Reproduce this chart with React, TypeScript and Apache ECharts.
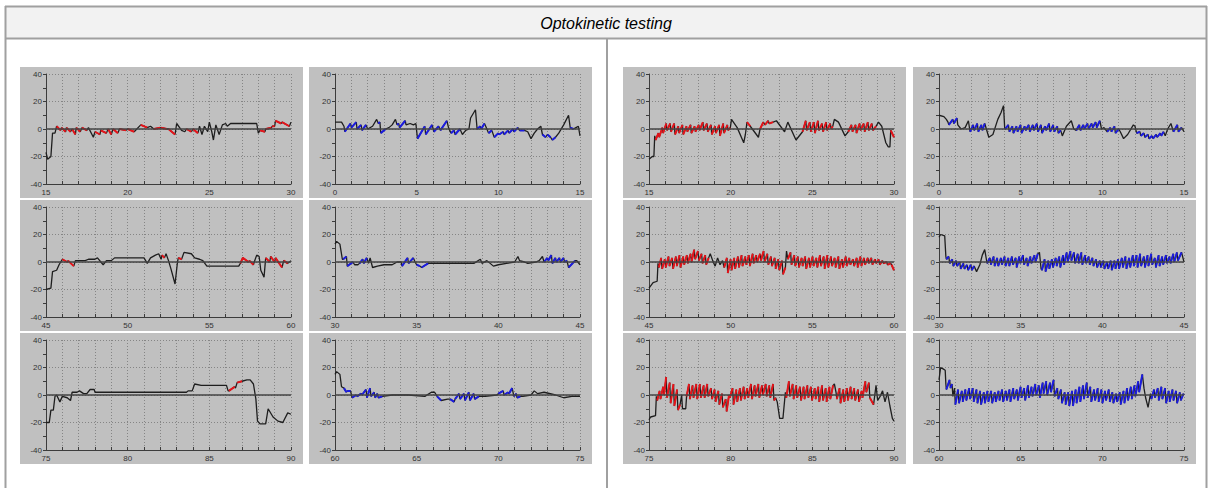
import React, { useEffect, useRef } from "react";
import * as echarts from "echarts";

type Pt = [number, number, number]; // [time s, position deg, 1 = slow phase (coloured) segment to next point]

const TITLE = "Optokinetic testing";
const Y_MIN = -40;
const Y_MAX = 40;
const Y_STEP = 20;
const X_SPAN = 15;
const X_STEP = 5;
const RED = "#e6141a";
const BLUE = "#1c1ce0";

// ---------- left block ----------
const L1: Pt[] = [[15.0,-17,0],[15.1,-22,0],[15.3,-20,0],[15.4,-3,0],[15.55,-3,0],[15.65,2,1],[15.9,-1,0],[15.95,1,1],[16.2,-2,0],[16.25,1,1],[16.5,-2,0],[16.6,0,1],[16.8,-4,0],[16.85,1,1],[17.1,-2,0],[17.2,1,1],[17.5,-1,0],[17.6,1,0],[17.9,-6,0],[18.0,-2,1],[18.3,-4,0],[18.35,-1,1],[18.7,-3,0],[18.8,0,1],[19.0,-4,0],[19.1,0,1],[19.4,-3,0],[19.5,0,1],[19.9,-1,0],[20.0,0,1],[20.4,-2,0],[20.8,3,1],[21.2,1,0],[21.4,2,0],[21.6,0,1],[22.0,1,0],[22.05,1,1],[22.4,0,0],[22.5,0,1],[22.9,-4,0],[23.0,4,0],[23.3,-1,0],[23.5,-2,0],[23.6,0,1],[23.9,-2,0],[24.0,0,1],[24.3,-3,0],[24.4,2,0],[24.55,-4,0],[24.7,2,0],[24.9,-2,0],[25.0,5,0],[25.15,-2,0],[25.25,-8,0],[25.4,3,0],[25.6,-4,0],[25.8,3,0],[26.0,4,0],[26.1,2,0],[26.3,4,0],[27.9,4,0],[28.0,-3,0],[28.1,-1,1],[28.4,-2,0],[28.45,0,1],[28.8,1,0],[28.85,2,1],[29.0,2,0],[29.05,6,1],[29.4,4,0],[29.45,5,1],[29.9,2,0],[30.0,5,0]];

const L2: Pt[] = [[0,5,0],[0.4,5,0],[0.55,2,0],[0.6,-2,1],[0.95,4,0],[1.0,1,1],[1.3,5,0],[1.35,0,1],[1.6,3,0],[1.65,-1,1],[1.9,3,0],[2.0,0,0],[2.3,2,0],[2.55,7,0],[2.65,4,1],[2.75,5,0],[2.8,-3,1],[3.1,0,0],[3.3,1,0],[3.5,3,0],[3.7,7,0],[3.8,3,1],[3.9,4,0],[3.95,1,1],[4.3,6,0],[4.35,3,0],[4.6,4,0],[4.8,3,0],[4.95,4,0],[5.05,-7,1],[5.5,2,0],[5.55,-4,1],[5.95,3,0],[6.05,-2,1],[6.35,2,0],[6.45,-1,1],[6.85,6,0],[6.95,1,0],[7.1,-3,1],[7.3,-1,0],[7.35,-4,1],[7.65,0,0],[7.8,-4,0],[8.0,-1,0],[8.2,0,0],[8.3,8,0],[8.6,14,0],[8.7,0,1],[8.9,2,0],[8.95,0,1],[9.15,4,0],[9.3,0,0],[9.4,-3,1],[9.6,-1,0],[9.75,-6,1],[10.0,-3,0],[10.05,-4,1],[10.3,-2,0],[10.35,-4,1],[10.6,-1,0],[10.65,-3,1],[10.9,0,0],[10.95,-2,1],[11.2,1,0],[11.3,-1,1],[11.6,-1,0],[11.8,-2,0],[12.0,-7,0],[12.2,-3,0],[12.4,0,0],[12.6,2,0],[12.7,-4,1],[12.9,-6,0],[13.0,-4,1],[13.2,-6,0],[13.3,-8,1],[13.5,-6,0],[13.7,-3,0],[14.0,3,0],[14.3,10,0],[14.4,1,1],[14.6,0,0],[14.75,1,0],[14.9,2,0],[15.0,-5,0]];

const L3: Pt[] = [[45,-20,0],[45.3,-19,0],[45.4,-7,0],[45.65,-6,0],[45.8,-2,0],[45.9,0,0],[46.0,2,1],[46.3,0,0],[46.35,1,1],[46.7,-3,0],[46.8,1,0],[47.4,1,0],[47.6,2,0],[48.0,2,0],[48.15,3,0],[48.5,-2,0],[48.7,1,0],[49.0,1,0],[49.2,3,0],[51.0,3,0],[51.2,-1,0],[51.4,3,0],[51.7,5,0],[51.9,6,0],[52.05,2,0],[52.1,5,1],[52.25,3,0],[52.35,6,0],[52.5,1,0],[52.65,-5,0],[52.9,-16,0],[53.05,0,0],[53.1,3,1],[53.3,2,0],[53.45,7,0],[53.9,6,0],[54.1,3,0],[54.4,2,0],[54.6,1,0],[54.85,-3,0],[56.8,-3,0],[56.9,-1,1],[57.05,3,1],[57.4,0,0],[57.45,1,1],[57.7,-2,0],[57.75,0,0],[57.9,5,0],[58.05,4,0],[58.15,-6,0],[58.35,-11,0],[58.45,3,1],[58.7,0,0],[58.75,4,1],[59.0,0,0],[59.05,3,1],[59.45,-4,0],[59.55,1,1],[59.8,-1,0],[60,1,0]];

const L4: Pt[] = [[30,13,0],[30.1,15,0],[30.3,13,0],[30.45,2,0],[30.5,2,1],[30.7,4,0],[30.75,-3,1],[31.1,0,0],[31.2,-2,0],[31.4,-2,0],[31.5,-1,1],[31.7,2,0],[31.75,-1,1],[31.95,3,0],[32.05,-1,0],[32.15,3,0],[32.3,-4,0],[32.6,-3,0],[33.0,-2,0],[33.5,-2,0],[33.8,0,0],[34.05,0,0],[34.1,-3,1],[34.45,3,0],[34.5,-1,1],[34.8,3,0],[34.9,0,0],[35.0,-2,1],[35.2,-3,0],[35.3,-4,1],[35.7,-1,0],[36.5,-1,0],[37.5,-1,0],[38.5,-1,0],[38.9,2,0],[39.0,-1,0],[39.3,1,0],[39.7,-3,0],[40.0,-2,0],[40.5,-1,0],[41.0,0,0],[41.2,4,0],[41.3,1,0],[41.6,0,0],[41.8,-1,0],[42.3,0,0],[42.5,1,0],[42.7,4,0],[42.8,0,1],[43.0,3,0],[43.05,1,1],[43.25,5,0],[43.3,-1,1],[43.5,3,0],[43.55,0,1],[43.75,3,0],[43.8,0,1],[44.0,3,0],[44.05,0,1],[44.2,1,0],[44.3,-4,1],[44.7,1,0],[44.8,1,0],[45,-2,0]];

const L5: Pt[] = [[75,-20,0],[75.2,-20,0],[75.3,-11,0],[75.45,-11,0],[75.55,-1,0],[75.65,0,0],[75.85,-5,0],[76.0,-1,0],[76.3,-2,0],[76.5,-4,0],[76.6,2,0],[76.9,2,0],[77.05,3,0],[77.3,1,0],[77.5,1,0],[77.7,4,0],[77.95,4,0],[78.0,2,0],[83.6,2,0],[83.7,3,0],[83.95,3,0],[84.1,8,0],[84.5,7,0],[85.0,7,0],[86.05,7,0],[86.15,3,0],[86.2,3,1],[86.55,6,0],[86.6,5,0],[86.7,9,1],[87.0,10,0],[87.3,11,0],[87.5,11,0],[87.7,8,0],[87.85,-3,0],[87.95,-19,0],[88.1,-21,0],[88.45,-21,0],[88.6,-10,0],[88.9,-16,0],[89.2,-19,0],[89.5,-20,0],[89.8,-13,0],[90,-14,0]];

const L6: Pt[] = [[60,15,0],[60.1,17,0],[60.3,15,0],[60.4,6,0],[60.55,5,1],[60.7,2,0],[60.75,3,1],[60.95,3,0],[61.05,-2,1],[61.3,0,0],[61.35,-1,1],[61.6,1,0],[61.65,0,1],[61.9,4,0],[61.95,-2,1],[62.15,5,0],[62.2,-1,1],[62.4,2,0],[62.45,-2,1],[62.6,1,0],[62.65,-2,1],[62.9,-1,0],[63.5,0,0],[64.5,0,0],[65.5,-1,0],[65.9,2,0],[66.1,2,0],[66.25,-1,1],[66.5,-4,0],[66.9,-3,0],[67.05,-3,1],[67.3,-5,0],[67.35,-3,1],[67.6,1,0],[67.65,-3,1],[67.9,1,0],[67.95,-4,1],[68.2,2,0],[68.25,-4,1],[68.5,1,0],[68.55,-3,1],[68.8,-1,0],[69.2,-1,0],[69.9,0,0],[70.0,1,1],[70.3,3,0],[70.35,0,1],[70.6,2,0],[70.65,1,1],[70.85,5,0],[70.95,-1,1],[71.1,1,0],[71.15,-2,1],[71.35,-1,0],[71.5,-1,0],[72.0,0,0],[72.2,3,0],[72.4,1,0],[72.8,2,0],[73.5,0,0],[74.0,-2,0],[74.5,-1,0],[75,-1,0]];

// ---------- right block ----------
const R1: Pt[] = [[15.0,-22,0],[15.2,-20,0],[15.3,-20,0],[15.35,-5,0],[15.4,-8,1],[15.58,-3,0],[15.62,-6,1],[15.82,1,0],[15.86,-3,1],[16.06,4,0],[16.1,-1,1],[16.3,4,0],[16.34,-2,1],[16.55,4,0],[16.59,-4,1],[16.8,2,0],[16.84,-3,1],[17.05,3,0],[17.09,-4,1],[17.3,2,0],[17.34,-2,1],[17.55,3,0],[17.59,-3,1],[17.8,2,0],[17.84,-2,1],[18.05,3,0],[18.09,-1,1],[18.3,5,0],[18.34,-1,1],[18.55,4,0],[18.59,-2,1],[18.8,3,0],[18.84,-4,1],[19.05,2,0],[19.09,-3,1],[19.3,3,0],[19.34,-5,1],[19.55,4,0],[19.59,-3,1],[19.8,3,0],[19.84,-1,1],[19.98,1,0],[20.05,7,0],[20.4,1,0],[20.8,-10,0],[20.9,-4,0],[21.0,5,1],[21.2,2,0],[21.7,-6,0],[21.8,0,1],[22.0,5,0],[22.1,3,1],[22.3,6,0],[22.35,4,1],[22.6,5,0],[22.8,6,0],[23.3,-2,0],[23.5,5,0],[24.0,-8,0],[24.4,-2,1],[24.6,6,0],[24.65,-1,1],[24.85,5,0],[24.9,-2,1],[25.1,5,0],[25.15,-3,1],[25.35,6,0],[25.4,-1,1],[25.6,4,0],[25.65,-2,1],[25.85,5,0],[25.9,-1,1],[26.1,4,0],[26.15,0,1],[26.25,2,0],[26.35,7,0],[26.6,5,0],[27.0,-5,0],[27.2,-2,1],[27.4,3,0],[27.45,-2,1],[27.65,3,0],[27.7,-3,1],[27.9,4,0],[27.95,-1,1],[28.15,4,0],[28.2,-2,1],[28.4,5,0],[28.45,-1,1],[28.65,4,0],[28.7,-1,1],[28.9,2,0],[29.05,5,0],[29.25,2,0],[29.5,-10,0],[29.65,-13,0],[29.75,-13,0],[29.8,-1,1],[30.0,-6,0]];

const R2: Pt[] = [[0.0,10,0],[0.3,9,0],[0.45,7,0],[0.55,5,0],[0.6,3,1],[0.85,7,0],[0.9,4,1],[1.1,8,0],[1.15,3,0],[1.35,0,0],[1.6,1,0],[1.8,6,0],[1.9,-2,1],[2.1,3,0],[2.15,-1,1],[2.35,4,0],[2.4,-2,1],[2.6,3,0],[2.65,-1,1],[2.8,4,0],[2.9,0,0],[3.05,-6,0],[3.3,-4,0],[3.6,7,0],[3.8,12,0],[3.95,17,0],[4.02,1,0],[4.05,0,1],[4.25,3,0],[4.3,-2,1],[4.5,2,0],[4.55,-3,1],[4.75,2,0],[4.8,-2,1],[5.0,3,0],[5.05,-3,1],[5.25,2,0],[5.3,-1,1],[5.5,3,0],[5.55,-2,1],[5.75,3,0],[5.8,-1,1],[6.0,4,0],[6.05,-2,1],[6.25,3,0],[6.3,-3,1],[6.5,2,0],[6.55,-1,1],[6.75,4,0],[6.8,-2,1],[7.0,3,0],[7.05,-2,1],[7.25,2,0],[7.3,-3,1],[7.45,-1,0],[7.55,-5,0],[7.8,2,0],[8.1,6,0],[8.25,0,0],[8.4,-1,1],[8.6,3,0],[8.65,-1,1],[8.85,3,0],[8.9,0,1],[9.1,4,0],[9.15,0,1],[9.35,4,0],[9.4,1,1],[9.6,5,0],[9.65,1,1],[9.85,6,0],[9.95,0,0],[10.1,1,0],[10.3,-2,1],[10.5,1,0],[10.55,-2,1],[10.75,2,0],[10.8,-3,1],[11.0,0,0],[11.1,-2,0],[11.3,-7,0],[11.55,-4,0],[11.9,3,0],[12.0,2,0],[12.1,-3,1],[12.3,-2,0],[12.35,-5,1],[12.55,-3,0],[12.6,-6,1],[12.8,-4,0],[12.85,-7,1],[13.05,-5,0],[13.1,-7,1],[13.3,-4,0],[13.35,-6,1],[13.55,-3,0],[13.6,-5,1],[13.75,-2,0],[13.85,-5,0],[14.0,0,0],[14.2,4,0],[14.3,0,0],[14.35,-2,1],[14.6,3,0],[14.65,-2,1],[14.85,1,0],[15.0,-2,0]];

const R3: Pt[] = [[45.0,-19,0],[45.25,-15,0],[45.5,-14,0],[45.55,-1,0],[45.6,-4,1],[45.75,3,0],[45.8,-5,1],[45.97,2,0],[46.02,-4,1],[46.2,4,0],[46.25,-3,1],[46.42,3,0],[46.47,-5,1],[46.65,4,0],[46.7,-3,1],[46.87,5,0],[46.92,-4,1],[47.1,4,0],[47.15,-2,1],[47.32,5,0],[47.37,-1,1],[47.55,6,0],[47.6,0,1],[47.77,9,0],[47.82,2,1],[48.0,8,0],[48.05,1,1],[48.22,6,0],[48.27,-1,1],[48.45,5,0],[48.5,-2,1],[48.65,3,0],[48.75,6,0],[48.9,1,0],[49.05,-3,0],[49.2,3,0],[49.35,-2,0],[49.5,1,0],[49.6,-4,1],[49.77,3,0],[49.82,-8,1],[50.0,2,0],[50.05,-6,1],[50.22,3,0],[50.27,-5,1],[50.45,4,0],[50.5,-4,1],[50.67,5,0],[50.72,-3,1],[50.9,4,0],[50.95,-2,1],[51.12,5,0],[51.17,-3,1],[51.35,6,0],[51.4,-1,1],[51.57,5,0],[51.62,0,1],[51.8,6,0],[51.85,1,1],[52.02,8,0],[52.07,0,1],[52.25,6,0],[52.3,-2,1],[52.47,4,0],[52.52,-3,1],[52.7,3,0],[52.75,-5,1],[52.92,2,0],[52.97,-6,1],[53.15,1,0],[53.2,-9,1],[53.35,-4,0],[53.42,8,0],[53.5,2,1],[53.67,7,0],[53.72,-2,1],[53.9,5,0],[53.95,-3,1],[54.12,4,0],[54.17,-4,1],[54.35,3,0],[54.4,-3,1],[54.57,4,0],[54.62,-5,1],[54.8,3,0],[54.85,-4,1],[55.02,4,0],[55.07,-3,1],[55.25,3,0],[55.3,-4,1],[55.47,5,0],[55.52,-3,1],[55.7,4,0],[55.75,-5,1],[55.92,5,0],[55.97,-4,1],[56.15,4,0],[56.2,-3,1],[56.37,3,0],[56.42,-4,1],[56.6,4,0],[56.65,-5,1],[56.82,2,0],[56.87,-4,1],[57.05,4,0],[57.1,-3,1],[57.27,3,0],[57.32,-2,1],[57.5,2,0],[57.55,-3,1],[57.72,3,0],[57.77,-4,1],[57.95,4,0],[58.0,-3,1],[58.17,3,0],[58.22,-2,1],[58.4,3,0],[58.45,-1,1],[58.62,3,0],[58.67,-2,1],[58.85,2,0],[58.9,-1,1],[59.07,2,0],[59.12,-2,1],[59.3,1,0],[59.35,-1,1],[59.55,0,0],[59.6,-2,1],[59.8,-1,0],[59.85,-2,1],[60.0,-6,0]];

const R4: Pt[] = [[30.0,18,0],[30.1,20,0],[30.35,19,0],[30.42,4,0],[30.45,2,1],[30.6,4,0],[30.65,-1,1],[30.82,2,0],[30.87,-3,1],[31.05,1,0],[31.1,-3,1],[31.27,0,0],[31.32,-5,1],[31.5,-1,0],[31.55,-5,1],[31.72,-2,0],[31.77,-6,1],[31.95,-2,0],[32.0,-6,1],[32.15,-3,0],[32.3,-7,0],[32.5,-2,0],[32.65,5,0],[32.8,9,0],[32.9,2,0],[32.95,-1,1],[33.12,3,0],[33.17,-2,1],[33.35,4,0],[33.4,-3,1],[33.57,3,0],[33.62,-3,1],[33.8,3,0],[33.85,-2,1],[34.02,4,0],[34.07,-3,1],[34.25,3,0],[34.3,-3,1],[34.47,4,0],[34.52,-2,1],[34.7,3,0],[34.75,-4,1],[34.92,4,0],[34.97,-1,1],[35.15,5,0],[35.2,-2,1],[35.37,3,0],[35.42,-3,1],[35.6,4,0],[35.65,-1,1],[35.85,5,0],[35.9,0,1],[36.05,6,0],[36.15,7,0],[36.25,-5,0],[36.3,-6,1],[36.47,2,0],[36.52,-7,1],[36.7,1,0],[36.75,-5,1],[36.92,2,0],[36.97,-4,1],[37.15,3,0],[37.2,-3,1],[37.37,4,0],[37.42,-4,1],[37.6,5,0],[37.65,-2,1],[37.82,7,0],[37.87,0,1],[38.05,8,0],[38.1,1,1],[38.27,7,0],[38.32,-1,1],[38.5,6,0],[38.55,-1,1],[38.72,7,0],[38.77,-2,1],[38.95,5,0],[39.0,-1,1],[39.17,4,0],[39.22,-2,1],[39.4,3,0],[39.45,-3,1],[39.62,2,0],[39.67,-4,1],[39.85,1,0],[39.9,-4,1],[40.07,1,0],[40.12,-5,1],[40.3,0,0],[40.35,-5,1],[40.52,1,0],[40.57,-6,1],[40.75,1,0],[40.8,-5,1],[40.97,2,0],[41.02,-5,1],[41.2,3,0],[41.25,-4,1],[41.42,4,0],[41.47,-5,1],[41.65,3,0],[41.7,-4,1],[41.87,5,0],[41.92,-3,1],[42.1,5,0],[42.15,-4,1],[42.32,6,0],[42.37,-3,1],[42.55,4,0],[42.6,-4,1],[42.77,5,0],[42.82,-3,1],[43.0,6,0],[43.05,-2,1],[43.22,3,0],[43.27,-4,1],[43.45,5,0],[43.5,-3,1],[43.67,4,0],[43.72,-2,1],[43.9,5,0],[43.95,-1,1],[44.12,4,0],[44.17,-1,1],[44.35,6,0],[44.4,0,1],[44.57,7,0],[44.62,1,1],[44.85,7,0],[45.0,0,0]];

const R5: Pt[] = [[75.0,-18,0],[75.1,-16,0],[75.4,-15,0],[75.45,-1,0],[75.5,-4,1],[75.65,3,0],[75.7,-3,1],[75.87,6,0],[75.92,0,1],[76.05,13,0],[76.1,-2,1],[76.27,9,0],[76.32,-6,1],[76.5,8,0],[76.55,-8,1],[76.72,4,0],[76.77,-11,1],[76.9,-7,0],[77.0,0,0],[77.05,-10,0],[77.25,-10,0],[77.3,-1,1],[77.45,8,0],[77.5,-3,1],[77.67,7,0],[77.72,-2,1],[77.9,8,0],[77.95,-3,1],[78.12,8,0],[78.17,-2,1],[78.35,7,0],[78.4,-2,1],[78.57,8,0],[78.62,-1,1],[78.8,5,0],[78.85,-3,1],[79.02,4,0],[79.07,-5,1],[79.25,3,0],[79.3,-7,1],[79.47,1,0],[79.52,-9,1],[79.7,-3,0],[79.75,-12,1],[79.9,0,0],[79.95,-2,1],[80.12,5,0],[80.17,-7,1],[80.35,4,0],[80.4,-5,1],[80.57,5,0],[80.62,-4,1],[80.8,6,0],[80.85,-3,1],[81.02,5,0],[81.07,-2,1],[81.25,8,0],[81.3,-3,1],[81.47,7,0],[81.52,-1,1],[81.7,8,0],[81.75,-2,1],[81.92,7,0],[81.97,0,1],[82.15,8,0],[82.2,-1,1],[82.37,7,0],[82.42,-2,1],[82.6,8,0],[82.65,-4,1],[82.75,-2,0],[82.85,-5,0],[83.0,-17,0],[83.2,-17,0],[83.35,2,0],[83.4,-2,1],[83.57,10,0],[83.62,-1,1],[83.8,8,0],[83.85,-3,1],[84.02,7,0],[84.07,-2,1],[84.25,6,0],[84.3,-4,1],[84.47,6,0],[84.52,-3,1],[84.7,7,0],[84.75,-2,1],[84.92,6,0],[84.97,-4,1],[85.15,5,0],[85.2,-3,1],[85.37,6,0],[85.42,-5,1],[85.6,7,0],[85.65,-4,1],[85.82,5,0],[85.87,-5,1],[86.05,6,0],[86.1,-3,1],[86.27,7,0],[86.35,8,0],[86.45,2,0],[86.5,-3,1],[86.67,5,0],[86.72,-6,1],[86.9,4,0],[86.95,-5,1],[87.12,5,0],[87.17,-4,1],[87.35,6,0],[87.4,-3,1],[87.57,5,0],[87.62,-4,1],[87.8,4,0],[87.85,-5,1],[88.02,3,0],[88.07,-2,1],[88.25,10,0],[88.3,2,1],[88.47,9,0],[88.52,-2,1],[88.75,-7,0],[88.9,7,0],[89.0,-4,0],[89.15,-1,0],[89.3,3,0],[89.45,-5,0],[89.6,2,0],[89.75,-8,0],[89.9,-17,0],[90.0,-19,0]];

const R6: Pt[] = [[60.0,11,0],[60.1,20,0],[60.25,19,0],[60.38,18,0],[60.42,8,0],[60.45,4,1],[60.65,11,0],[60.7,5,1],[60.8,8,0],[60.85,-1,0],[60.95,5,0],[61.0,-7,1],[61.17,4,0],[61.22,-6,1],[61.4,3,0],[61.45,-5,1],[61.62,4,0],[61.67,-4,1],[61.85,5,0],[61.9,-3,1],[62.07,5,0],[62.12,-5,1],[62.3,4,0],[62.35,-6,1],[62.52,3,0],[62.57,-7,1],[62.75,2,0],[62.8,-6,1],[62.97,3,0],[63.02,-5,1],[63.2,3,0],[63.25,-6,1],[63.42,2,0],[63.47,-5,1],[63.65,3,0],[63.7,-4,1],[63.87,4,0],[63.92,-5,1],[64.1,3,0],[64.15,-4,1],[64.32,4,0],[64.37,-5,1],[64.55,5,0],[64.6,-3,1],[64.77,4,0],[64.82,-4,1],[65.0,6,0],[65.05,-2,1],[65.22,5,0],[65.27,-4,1],[65.45,7,0],[65.5,-2,1],[65.67,6,0],[65.72,-1,1],[65.9,8,0],[65.95,0,1],[66.12,7,0],[66.17,-2,1],[66.35,9,0],[66.4,1,1],[66.57,10,0],[66.62,0,1],[66.8,9,0],[66.85,2,1],[67.02,11,0],[67.07,-1,1],[67.25,5,0],[67.3,-3,1],[67.47,4,0],[67.52,-6,1],[67.7,2,0],[67.75,-7,1],[67.92,2,0],[67.97,-8,1],[68.15,3,0],[68.2,-8,1],[68.37,4,0],[68.42,-6,1],[68.6,6,0],[68.65,-5,1],[68.82,7,0],[68.87,-3,1],[69.05,9,0],[69.1,-2,1],[69.27,6,0],[69.32,-5,1],[69.5,4,0],[69.55,-4,1],[69.72,5,0],[69.77,-5,1],[69.95,4,0],[70.0,-6,1],[70.17,3,0],[70.22,-4,1],[70.4,4,0],[70.45,-5,1],[70.62,2,0],[70.67,-6,1],[70.85,1,0],[70.9,-5,1],[71.07,2,0],[71.12,-7,1],[71.3,3,0],[71.35,-6,1],[71.52,5,0],[71.57,-4,1],[71.75,6,0],[71.8,-3,1],[71.97,7,0],[72.02,-1,1],[72.2,10,0],[72.25,2,1],[72.45,15,0],[72.55,5,0],[72.65,-2,0],[72.8,-9,0],[72.95,1,0],[73.0,-3,1],[73.17,4,0],[73.22,-2,1],[73.4,5,0],[73.45,-4,1],[73.62,6,0],[73.67,-3,1],[73.85,5,0],[73.9,-6,1],[74.07,3,0],[74.12,-5,1],[74.3,4,0],[74.35,-4,1],[74.52,3,0],[74.57,-6,1],[74.75,2,0],[74.8,-4,1],[74.97,1,0],[75.0,0,0]];

// panel order: [block, row, column-in-block]
const TRACES = [L1, L2, L3, L4, L5, L6, R1, R2, R3, R4, R5, R6];
const STARTS = [15, 0, 45, 30, 75, 60, 15, 0, 45, 30, 75, 60];
const SLOW_COLORS = [RED, BLUE, RED, BLUE, RED, BLUE, RED, BLUE, RED, BLUE, RED, BLUE];

// ---------- layout ----------
const W = 1211;
const H = 488;
const PANEL_W = 283;
const PANEL_H = 131;
const PANEL_X = [20, 309, 623, 913];
const PANEL_Y = [67, 200, 333];
const FONT = "'Liberation Sans', Arial, sans-serif";

function slowSegments(pts: Pt[]): (number | string)[][] {
  const out: (number | string)[][] = [];
  let prev = false;
  for (let i = 0; i < pts.length - 1; i++) {
    if (pts[i][2] === 1) {
      if (!prev) out.push([pts[i][0], pts[i][1]]);
      out.push([pts[i + 1][0], pts[i + 1][1]]);
      prev = true;
    } else if (prev) {
      out.push([pts[i][0], "-"]);
      prev = false;
    }
  }
  return out;
}

export default function App() {
  const ref = useRef<HTMLDivElement>(null);
  useEffect(() => {
    const el = ref.current;
    if (!el) return;
    const chart = echarts.init(el, null, { renderer: "svg", width: W, height: H });

    const grids: any[] = [];
    const xAxes: any[] = [];
    const yAxes: any[] = [];
    const series: any[] = [];
    const graphics: any[] = [];

    const border = "#a0a0a0";
    graphics.push({ type: "rect", z: -20, silent: true, shape: { x: 6, y: 7, width: 1200, height: 31 }, style: { fill: "#f2f2f2" } });
    graphics.push({ type: "line", z: -5, silent: true, shape: { x1: 5.5, y1: 6, x2: 5.5, y2: H }, style: { stroke: border, lineWidth: 2 } });
    graphics.push({ type: "line", z: -5, silent: true, shape: { x1: 1206.5, y1: 6, x2: 1206.5, y2: H }, style: { stroke: border, lineWidth: 2 } });
    graphics.push({ type: "line", z: -5, silent: true, shape: { x1: 5, y1: 6.5, x2: 1207, y2: 6.5 }, style: { stroke: border, lineWidth: 2 } });
    graphics.push({ type: "line", z: -5, silent: true, shape: { x1: 5, y1: 38.5, x2: 1207, y2: 38.5 }, style: { stroke: border, lineWidth: 2 } });
    graphics.push({ type: "line", z: -5, silent: true, shape: { x1: 607, y1: 38, x2: 607, y2: H }, style: { stroke: border, lineWidth: 2 } });
    graphics.push({
      type: "text", z: 5, silent: true,
      style: { text: TITLE, x: 606, y: 23, align: "center", verticalAlign: "middle", fontSize: 16, fontStyle: "italic", fontFamily: FONT, fill: "#000" },
    });

    TRACES.forEach((pts, i) => {
      const block = i < 6 ? 0 : 1;
      const k = i % 6;
      const row = Math.floor(k / 2);
      const colIn = k % 2;
      const px = PANEL_X[block * 2 + colIn];
      const py = PANEL_Y[row];
      graphics.push({ type: "rect", z: -20, silent: true, shape: { x: px, y: py, width: PANEL_W, height: PANEL_H }, style: { fill: "#c0c0c0" } });

      grids.push({ left: px + 26, top: py + 7, width: 245, height: 110, containLabel: false });
      const start = STARTS[i];
      const dotted = { show: true, lineStyle: { color: "#858585", width: 1, type: [1, 2] } };
      xAxes.push({
        type: "value", gridIndex: i, min: start, max: start + X_SPAN, interval: X_STEP,
        axisLine: { show: true, onZero: false, lineStyle: { color: "#3c3c3c", width: 1 } },
        axisTick: { show: true, inside: true, length: 3, lineStyle: { color: "#3c3c3c" } },
        minorTick: { show: true, splitNumber: 5, length: 3, lineStyle: { color: "#3c3c3c" } },
        splitLine: dotted,
        minorSplitLine: dotted,
        axisLabel: { fontSize: 8, color: "#333", margin: 4, fontFamily: FONT },
      });
      yAxes.push({
        type: "value", gridIndex: i, min: Y_MIN, max: Y_MAX, interval: Y_STEP,
        axisLine: { show: true, onZero: false, lineStyle: { color: "#3c3c3c", width: 1 } },
        axisTick: { show: true, inside: false, length: 3, lineStyle: { color: "#3c3c3c" } },
        minorTick: { show: true, splitNumber: 2, length: 3, lineStyle: { color: "#3c3c3c" } },
        splitLine: dotted,
        axisLabel: { fontSize: 8, color: "#333", margin: 4, fontFamily: FONT },
      });
      series.push({
        type: "line", xAxisIndex: i, yAxisIndex: i, showSymbol: false, symbol: "none",
        data: pts.map((p) => [p[0], p[1]]),
        lineStyle: { color: "#1e1e1e", width: 1.3 },
        silent: true,
        markLine: {
          silent: true, symbol: "none", label: { show: false },
          lineStyle: { color: "#454545", width: 1.6, type: "solid" },
          data: [{ yAxis: 0 }],
        },
      });
      series.push({
        type: "line", xAxisIndex: i, yAxisIndex: i, showSymbol: false, symbol: "none",
        connectNulls: false,
        data: slowSegments(pts),
        lineStyle: { color: SLOW_COLORS[i], width: 2 },
        silent: true,
      });
    });

    chart.setOption({
      animation: false,
      backgroundColor: "#ffffff",
      grid: grids,
      xAxis: xAxes,
      yAxis: yAxes,
      series,
      graphic: { elements: graphics },
    });
    return () => chart.dispose();
  }, []);
  return <div ref={ref} style={{ position: "absolute", left: 0, top: 0, width: W, height: H }} />;
}
